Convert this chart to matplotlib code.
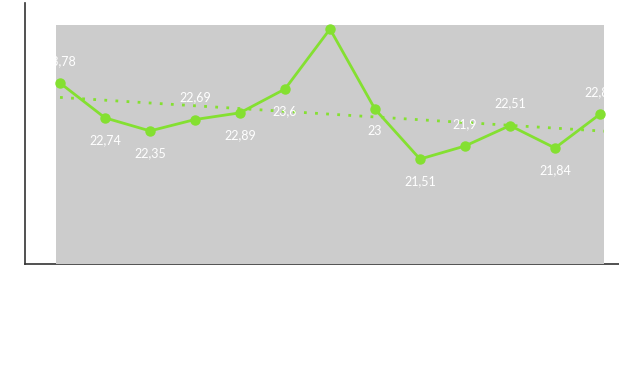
import matplotlib.pyplot as plt
import numpy as np

# values (one per period)
values = [23.78, 22.74, 22.35, 22.69, 22.89, 23.6, 25.39, 23.0, 21.51, 21.9, 22.51, 21.84, 22.85]
# where each value label sits relative to its point
label_side = ["above", "below", "below", "above", "below", "below", "above",
              "below", "below", "above", "above", "below", "above"]

green = "#84e031"
x = np.arange(len(values))

fig = plt.figure(figsize=(6.19, 3.67), dpi=100)

# outer frame with only left and bottom lines
frame = fig.add_axes([25 / 619, 103 / 367, 594 / 619, 261 / 367])
frame.set_xticks([])
frame.set_yticks([])
for side in ["top", "right"]:
    frame.spines[side].set_visible(False)
for side in ["left", "bottom"]:
    frame.spines[side].set_color("#333333")
    frame.spines[side].set_linewidth(1.2)
frame.patch.set_alpha(0)

# grey plot area
ax = fig.add_axes([56 / 619, 103 / 367, 548 / 619, 239 / 367])
ax.set_facecolor("#cccccc")
for s in ax.spines.values():
    s.set_visible(False)
ax.set_xticks([])
ax.set_yticks([])
ax.set_xlim(-0.089, 12.089)
ax.set_ylim(18.38, 25.51)

# linear trend
slope, intercept = np.polyfit(x, values, 1)
tx = np.array([x[0], ax.get_xlim()[1]])
ax.plot(tx, slope * tx + intercept, color=green, lw=2, ls=(0, (1, 3)), zorder=2)

ax.plot(x, values, color=green, lw=2, marker="o", markersize=6.5, zorder=3, clip_on=False)

for xi, v, side in zip(x, values, label_side):
    dy = 16 if side == "above" else -16
    txt = ("%g" % v).replace(".", ",")
    ax.annotate(txt, (xi, v), xytext=(0, dy), textcoords="offset points",
                ha="center", va="center", color="white", fontsize=9,
                family="Lato", clip_on=True, zorder=4)

plt.savefig("out.png", dpi=100)
